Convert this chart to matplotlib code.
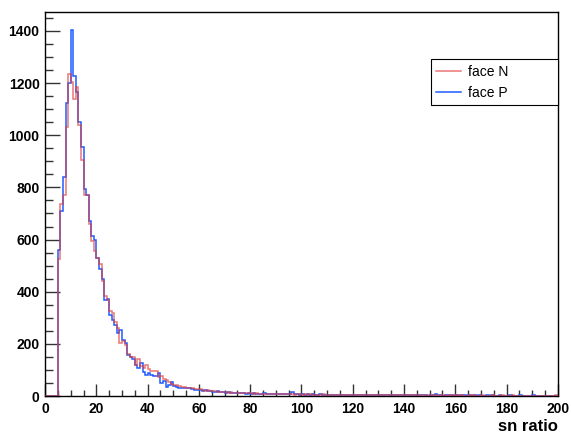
import numpy as np
import matplotlib
matplotlib.use("Agg")
import matplotlib.pyplot as plt
from matplotlib.ticker import MultipleLocator

plt.rcParams['font.family'] = ['Liberation Sans', 'DejaVu Sans']

# bin edges: 200 bins of width 1 from 0 to 200
edges = np.arange(0, 201, 1)

# face P (blue) counts, bins 0..199
face_p = [0, 0, 0, 0, 0,
          559, 711, 838, 1125, 1201, 1403, 1227, 1166, 1051, 956,
          795, 772, 673, 613, 600, 530, 486, 448, 370, 372,
          311, 290, 272, 240, 255, 215, 205, 157, 151, 140,
          119, 109, 125, 93, 80, 88, 80, 78, 76, 90,
          48, 58, 36, 42, 55, 38, 36, 32, 30, 29,
          29, 31, 28, 24, 22,
          23, 20, 24, 18, 19, 17, 15, 18, 14, 15, 12, 14, 11, 13, 12, 10, 11, 12, 9, 10,
          9, 10, 8, 9, 8, 10, 7, 8, 9, 7, 8, 6, 7, 8, 6, 7, 14, 6, 7, 5,
          6, 5, 7, 5, 6, 4, 5, 6, 4, 5, 5, 4, 5, 3, 4, 5, 4, 3, 4, 4,
          3, 4, 3, 5, 3, 3, 4, 2, 3, 4, 3, 2, 3, 3, 2, 4, 2, 3, 2, 3,
          2, 3, 2, 2, 3, 2, 3, 2, 2, 1, 3, 2, 6, 2, 2, 1, 2, 3, 2, 1,
          2, 1, 2, 2, 1, 3, 1, 2, 1, 2, 1, 1, 2, 1, 2, 1, 1, 2, 1, 1,
          1, 2, 1, 1, 1, 2, 1, 1, 0, 1, 2, 1, 1, 0, 1, 1, 1, 0, 1, 1]

# face N (red) counts, bins 0..199
face_n = [0, 0, 0, 0, 0,
          524, 737, 772, 1032, 1235, 1205, 1140, 1185, 1039, 905,
          772, 772, 660, 594, 556, 531, 505, 440, 385, 370,
          325, 318, 285, 262, 205, 210, 196, 160, 150, 148,
          120, 140, 115, 108, 119, 102, 95, 94, 96, 74,
          76, 64, 62, 55, 46, 42, 42, 38, 36, 34,
          30, 29, 30, 27, 25,
          25, 22, 21, 22, 19, 18, 20, 16, 17, 15, 16, 13, 14, 12, 13, 11, 12, 10, 11, 10,
          10, 9, 10, 8, 9, 8, 9, 7, 8, 7, 6, 8, 7, 6, 7, 6, 7, 5, 6, 6,
          5, 6, 5, 6, 4, 5, 5, 4, 6, 4, 5, 4, 3, 5, 4, 3, 4, 4, 3, 4,
          4, 3, 4, 3, 3, 4, 2, 3, 3, 2, 3, 4, 2, 3, 2, 3, 2, 3, 2, 2,
          3, 2, 2, 3, 2, 2, 3, 1, 2, 2, 3, 2, 2, 1, 2, 2, 1, 2, 2, 1,
          2, 1, 2, 1, 1, 2, 1, 2, 1, 1, 2, 1, 1, 1, 2, 1, 1, 1, 2, 1,
          1, 1, 2, 1, 1, 1, 0, 1, 1, 1, 1, 0, 1, 1, 1, 0, 1, 1, 1, 2]

labels = ["face N", "face P"]

fig = plt.figure(figsize=(5.71, 4.40), dpi=100)
ax = fig.add_axes([0.079, 0.1, 0.898, 0.873])

ax.stairs(face_p, edges, color="#1f5bff", lw=1.1, label=labels[1], zorder=2)
ax.stairs(face_n, edges, color="#e03c3c", lw=1.1, alpha=0.7, label=labels[0], zorder=3)

ax.set_xlim(0, 200)
ax.set_ylim(0, max(face_p) * 1.05)

ax.xaxis.set_major_locator(MultipleLocator(20))
ax.xaxis.set_minor_locator(MultipleLocator(5))
ax.yaxis.set_major_locator(MultipleLocator(200))
ax.yaxis.set_minor_locator(MultipleLocator(50))
ax.tick_params(axis="both", which="both", direction="in", top=False, right=False,
               width=1, color="#333333")
ax.tick_params(axis="y", which="major", length=11, pad=4)
ax.tick_params(axis="y", which="minor", length=5.5)
ax.tick_params(axis="x", which="major", length=9, pad=4)
ax.tick_params(axis="x", which="minor", length=4.5)
for lab in ax.get_xticklabels() + ax.get_yticklabels():
    lab.set_fontweight("bold")
    lab.set_fontsize(10)

for s in ax.spines.values():
    s.set_linewidth(1)
    s.set_color("black")

ax.text(1.0, -0.08, "sn ratio", transform=ax.transAxes, ha="right", va="center",
        fontsize=12, fontweight="bold")

h, l = ax.get_legend_handles_labels()
leg = ax.legend(h[::-1], l[::-1], loc="upper left",
                bbox_to_anchor=(0.752, 0.749, 0.248, 0.128), mode="expand",
                borderaxespad=0, fancybox=False, edgecolor="black", framealpha=1,
                fontsize=10, handlelength=1.8, handletextpad=0.45, labelspacing=0.5,
                borderpad=0.4)
leg.get_frame().set_linewidth(0.8)

fig.savefig("out.png", dpi=100)
